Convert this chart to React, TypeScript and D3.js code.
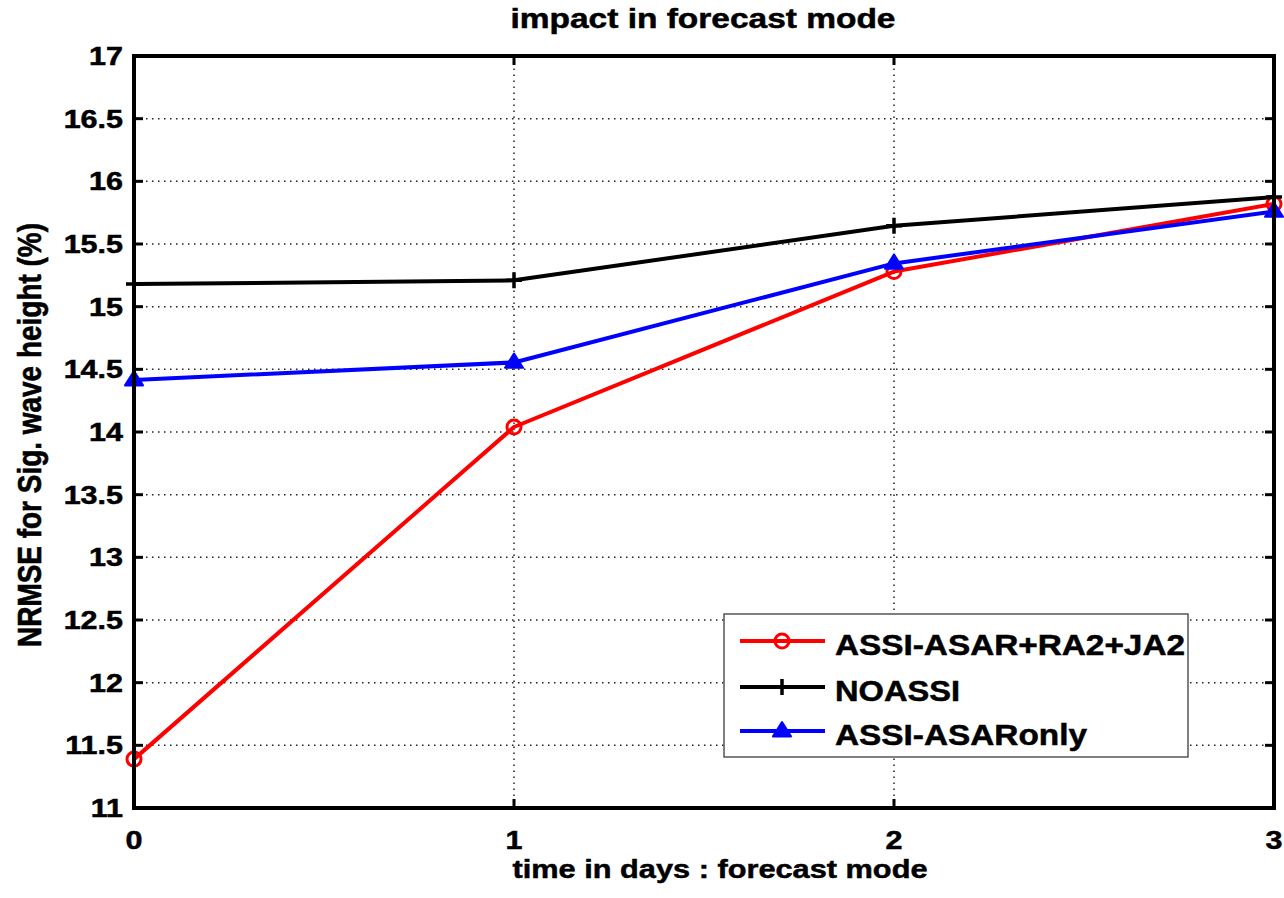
import React from "react";
import * as d3 from "d3";

const days = [0, 1, 2, 3];
const xTicks = [0, 1, 2, 3];
const yTicks = [11, 11.5, 12, 12.5, 13, 13.5, 14, 14.5, 15, 15.5, 16, 16.5, 17];
const yTickLabels = ["11", "11.5", "12", "12.5", "13", "13.5", "14", "14.5", "15", "15.5", "16", "16.5", "17"];
const assiAll = [11.39, 14.04, 15.28, 15.82];
const noAssi = [15.18, 15.21, 15.645, 15.875];
const assiAsar = [14.415, 14.555, 15.345, 15.76];
const seriesNames = ["ASSI-ASAR+RA2+JA2", "NOASSI", "ASSI-ASARonly"];
const titleText = "impact in forecast mode";
const xLabelText = "time in days : forecast mode";
const yLabelText = "NRMSE for Sig. wave height (%)";

const W = 1284;
const H = 898;
const FONT = "'Liberation Sans', Arial, Helvetica, sans-serif";
const SX = 1.22;

export default function App() {
  const x = d3.scaleLinear().domain([0, 3]).range([134, 1274]);
  const y = d3.scaleLinear().domain([11, 17]).range([808, 56]);
  const [x0, x1] = x.range();
  const [y0, y1] = y.range();

  const line = d3
    .line<[number, number]>()
    .x((d) => x(d[0]))
    .y((d) => y(d[1]));

  const series = [
    { name: seriesNames[0], values: assiAll, color: "#ff0000", marker: "circle" },
    { name: seriesNames[1], values: noAssi, color: "#000000", marker: "plus" },
    { name: seriesNames[2], values: assiAsar, color: "#0000ff", marker: "triangle" },
  ];

  const drawMarker = (kind: string, cx: number, cy: number, color: string, key: string) => {
    if (kind === "circle") {
      return <circle key={key} cx={cx} cy={cy} r={7} fill="none" stroke={color} strokeWidth={3} />;
    }
    if (kind === "plus") {
      return (
        <path
          key={key}
          d={`M${cx - 8},${cy}H${cx + 8}M${cx},${cy - 8}V${cy + 8}`}
          stroke={color}
          strokeWidth={3.5}
        />
      );
    }
    const s = 9;
    return (
      <path
        key={key}
        d={`M${cx},${cy - s}L${cx + s},${cy + s * 0.6}L${cx - s},${cy + s * 0.6}Z`}
        fill={color}
        stroke={color}
        strokeWidth={2}
        strokeLinejoin="round"
      />
    );
  };

  const legendRows = [641, 687, 731];
  const legendBase = [655, 701, 745];
  const legendLens = [350, 125, 252];
  const thick = { stroke: "#000", strokeWidth: 0.5 };

  return (
    <svg
      width={W}
      height={H}
      style={{ position: "absolute", left: 0, top: 0, background: "#fff" }}
      fontFamily={FONT}
      fontWeight="bold"
    >
      <rect x={0} y={0} width={W} height={H} fill="#fff" />
      {/* grid */}
      {yTicks
        .filter((t) => t > 11 && t < 17)
        .map((t) => (
          <line
            key={"gy" + t}
            x1={x0}
            x2={x1}
            y1={y(t)}
            y2={y(t)}
            stroke="#222"
            strokeWidth={1.5}
            strokeDasharray="1.5,4.5"
          />
        ))}
      {xTicks
        .filter((t) => t > 0 && t < 3)
        .map((t) => (
          <line
            key={"gx" + t}
            x1={x(t)}
            x2={x(t)}
            y1={y0}
            y2={y1}
            stroke="#222"
            strokeWidth={1.5}
            strokeDasharray="1.5,4.5"
          />
        ))}
      {/* ticks */}
      {yTicks.map((t) => (
        <g key={"ty" + t}>
          <line x1={x0} x2={x0 + 9} y1={y(t)} y2={y(t)} stroke="#000" strokeWidth={3} />
          <line x1={x1} x2={x1 - 9} y1={y(t)} y2={y(t)} stroke="#000" strokeWidth={3} />
        </g>
      ))}
      {xTicks.map((t) => (
        <g key={"tx" + t}>
          <line x1={x(t)} x2={x(t)} y1={y0} y2={y0 - 9} stroke="#000" strokeWidth={3} />
          <line x1={x(t)} x2={x(t)} y1={y1} y2={y1 + 9} stroke="#000" strokeWidth={3} />
        </g>
      ))}
      {/* data */}
      {series.map((s) => (
        <g key={s.name}>
          <path
            d={line(days.map((d, i) => [d, s.values[i]] as [number, number])) || ""}
            fill="none"
            stroke={s.color}
            strokeWidth={4}
            strokeLinejoin="round"
          />
          {days.map((d, i) => drawMarker(s.marker, x(d), y(s.values[i]), s.color, s.name + i))}
        </g>
      ))}
      {/* axes box */}
      <rect x={x0} y={y1} width={x1 - x0} height={y0 - y1} fill="none" stroke="#000" strokeWidth={4} />
      {/* y tick labels */}
      {yTicks.map((t, i) => (
        <text
          key={"yl" + t}
          transform={`translate(123,${y(t) + 9}) scale(${SX},1)`}
          textAnchor="end"
          fontSize={25}
          fill="#000"
          {...thick}
        >
          {yTickLabels[i]}
        </text>
      ))}
      {/* x tick labels */}
      {xTicks.map((t) => (
        <text
          key={"xl" + t}
          transform={`translate(${x(t)},849) scale(${SX},1)`}
          textAnchor="middle"
          fontSize={25}
          fill="#000"
          {...thick}
        >
          {String(t)}
        </text>
      ))}
      {/* title */}
      <text
        x={703}
        y={28}
        textAnchor="middle"
        fontSize={27}
        textLength={385}
        lengthAdjust="spacingAndGlyphs"
        {...thick}
      >
        {titleText}
      </text>
      {/* x label */}
      <text
        x={720}
        y={878}
        textAnchor="middle"
        fontSize={26}
        textLength={415}
        lengthAdjust="spacingAndGlyphs"
        {...thick}
      >
        {xLabelText}
      </text>
      {/* y label */}
      <g transform={`translate(41,435) scale(1.2,1) rotate(-90)`}>
        <text
          x={0}
          y={0}
          textAnchor="middle"
          fontSize={27}
          textLength={424}
          lengthAdjust="spacingAndGlyphs"
          {...thick}
        >
          {yLabelText}
        </text>
      </g>
      {/* legend */}
      <rect x={724} y={614} width={464} height={143} fill="#fff" stroke="#555" strokeWidth={1.5} />
      {series.map((s, i) => (
        <g key={"lg" + s.name}>
          <line x1={740} x2={825} y1={legendRows[i]} y2={legendRows[i]} stroke={s.color} strokeWidth={4} />
          {drawMarker(s.marker, 782, legendRows[i], s.color, "lm" + i)}
          <text
            x={835}
            y={legendBase[i]}
            fontSize={29}
            textLength={legendLens[i]}
            lengthAdjust="spacingAndGlyphs"
            {...thick}
          >
            {s.name}
          </text>
        </g>
      ))}
    </svg>
  );
}
